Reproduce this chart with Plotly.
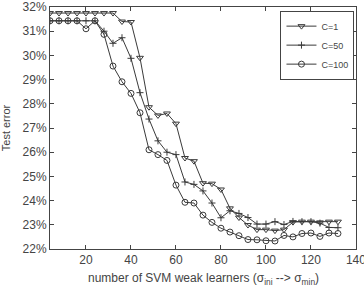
import plotly.graph_objects as go

x_learners = list(range(4, 133, 4))

err_c1 = [31.75, 31.75, 31.75, 31.75, 31.75, 31.75, 31.75, 31.75, 31.4, 31.38,
          29.9, 27.86, 27.52, 27.6, 27.18, 25.76, 25.63, 24.72, 24.7, 24.46,
          23.68, 23.3, 22.99, 22.8, 22.8, 22.76, 22.8, 23.11, 23.13, 23.13,
          23.1, 23.13, 23.13]

err_c50 = [31.43, 31.43, 31.43, 31.43, 31.43, 31.43, 31.0, 30.5, 30.73, 29.88,
           28.46, 27.37, 26.47, 26.0, 25.9, 24.77, 24.67, 24.4, 23.9, 23.29,
           23.58, 23.47, 23.3, 23.03, 23.03, 23.13, 23.01, 23.14, 23.13, 23.13,
           23.07, 22.89, 22.88]

err_c100 = [31.43, 31.43, 31.43, 31.43, 31.1, 31.43, 30.87, 29.56, 28.91, 28.43,
            27.63, 26.1, 25.9, 25.66, 24.64, 23.93, 23.9, 23.4, 23.1, 22.86,
            22.7, 22.55, 22.39, 22.38, 22.34, 22.33, 22.56, 22.5, 22.64, 22.66,
            22.52, 22.66, 22.64]

series_names = ["C=1", "C=50", "C=100"]
x_ticks = [20, 40, 60, 80, 100, 120, 140]
y_ticks = list(range(22, 33))
y_tick_labels = [f"{v}%" for v in y_ticks]
x_title = "number of SVM weak learners (σ<sub>ini</sub> --> σ<sub>min</sub>)"

line_col = "#3a3a3a"
txt_col = "#444"
fig = go.Figure()
symbols = ["triangle-down-open", "cross-thin-open", "circle-open"]
sizes = [6, 5, 6]
for name, ys, sym, sz in zip(series_names, [err_c1, err_c50, err_c100], symbols, sizes):
    fig.add_trace(go.Scatter(
        x=x_learners, y=ys, name=name, mode="lines+markers",
        line=dict(color=line_col, width=1),
        marker=dict(symbol=sym, size=sz,
                    color=line_col, line=dict(color=line_col, width=1)),
    ))

axis_common = dict(
    showline=True, linecolor="#444", linewidth=1, mirror="ticks",
    ticks="inside", ticklen=4, tickcolor="#444", tickwidth=1,
    showgrid=False, zeroline=False, automargin=False,
    tickfont=dict(family="Liberation Sans, Arial", size=12, color=txt_col),
)

fig.update_layout(
    width=364, height=286,
    margin=dict(l=50, r=8, t=7, b=37),
    paper_bgcolor="white", plot_bgcolor="white",
    font=dict(family="Liberation Sans, Arial", size=11, color=txt_col),
    xaxis=dict(range=[4, 140.02], tickmode="array", tickvals=x_ticks,
               ticktext=[str(v) for v in x_ticks], ticklabeloverflow="allow",
               **axis_common),
    yaxis=dict(range=[22, 32], tickmode="array", tickvals=y_ticks, ticktext=y_tick_labels,
               title=dict(text="Test error", font=dict(size=11, color=txt_col)),
               **axis_common),
    legend=dict(x=0.995, y=0.985, xanchor="right", yanchor="top",
                bordercolor="#444", borderwidth=1, bgcolor="white",
                font=dict(size=9, color=txt_col),
                tracegroupgap=0, itemwidth=30, traceorder="normal"),
    showlegend=True,
    annotations=[dict(text=x_title, xref="paper", yref="paper", x=0.5, y=0,
                      yshift=-20, xanchor="center", yanchor="top", showarrow=False,
                      font=dict(size=12, color=txt_col))],
)

fig.write_html("out.html")
